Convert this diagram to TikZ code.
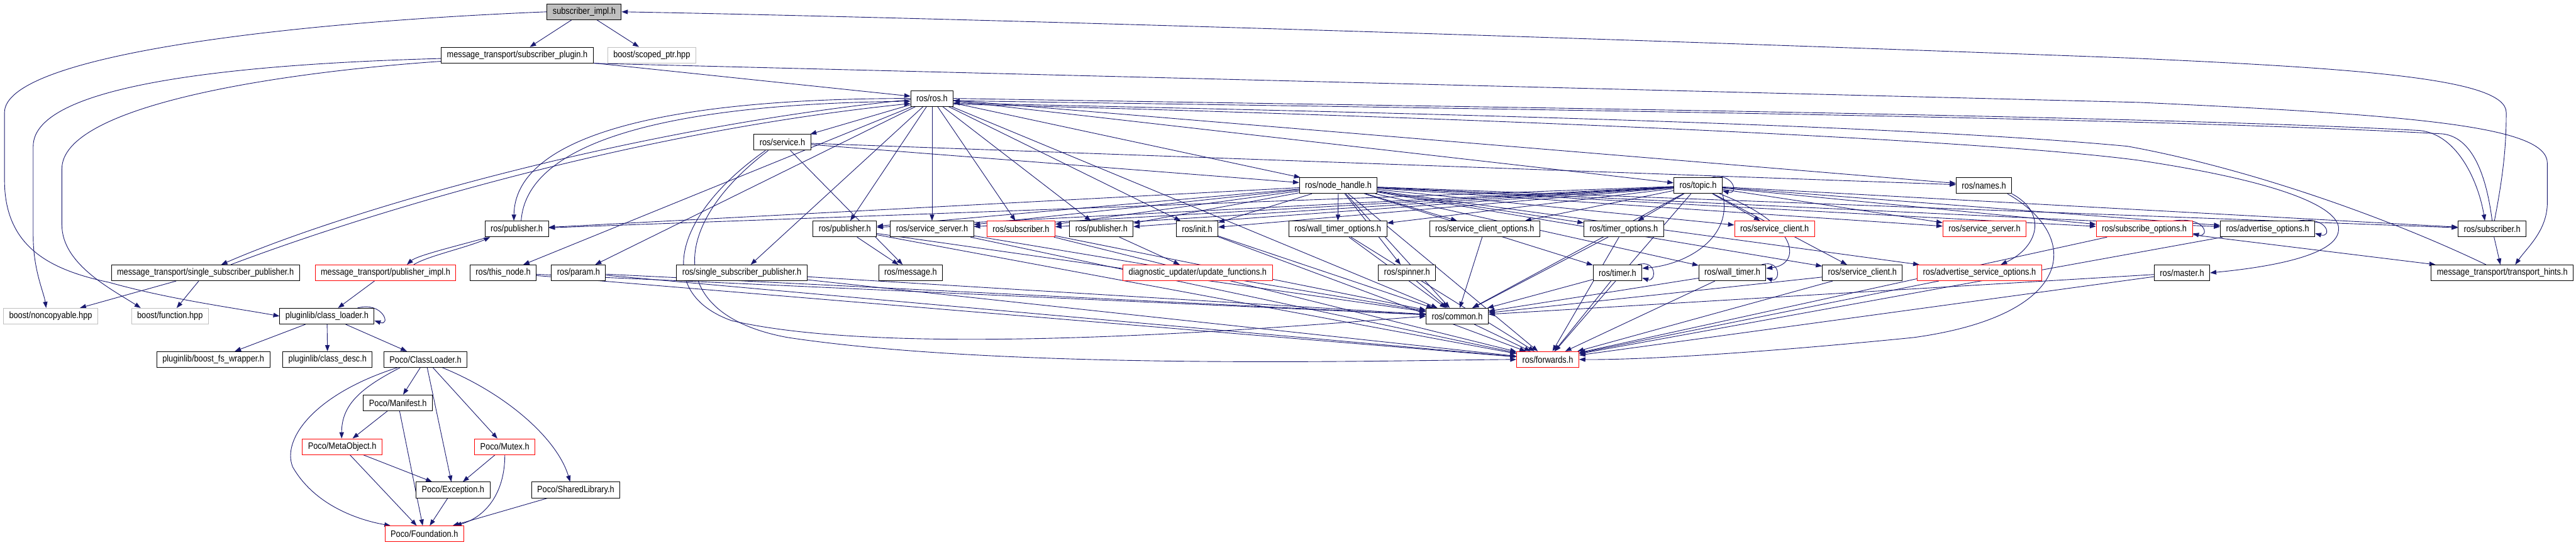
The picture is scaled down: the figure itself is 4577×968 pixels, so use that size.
\documentclass[tikz,border=0pt]{standalone}
\usepackage{fontspec}
\setmainfont{Liberation Sans}[FakeStretch=0.87]
\usepackage{tikz}
\usetikzlibrary{arrows.meta}
\definecolor{edgeblue}{HTML}{191970}
\definecolor{lightbox}{HTML}{BFBFBF}
\pgfdeclarelayer{edges}
\pgfsetlayers{edges,main}

\begin{document}
\begin{tikzpicture}[x=1pt,y=-1pt,
  file/.style={draw=black,line width=1.1pt,fill=white,minimum height=28pt,inner xsep=10pt,inner ysep=0pt,font=\fontsize{16.4}{18}\selectfont},
  trunc/.style={file,draw=red},
  ext/.style={file,draw=lightbox},
  root/.style={file,fill=lightbox},
  inc/.style={draw=edgeblue,line width=1pt,-{Triangle[length=11pt,width=8pt]}}]
\useasboundingbox (0,0) rectangle (4577,968);
% top of the graph
\node[root] (subimpl) at (1038,21) {subscriber\_impl.h};
\node[file] (subplugin) at (919,98) {message\_transport/subscriber\_plugin.h};
\node[ext] (scopedptr) at (1158,98) {boost/scoped\_ptr.hpp};
\node[file] (rosh) at (1656,175) {ros/ros.h};
\node[file] (service) at (1390,253) {ros/service.h};
\node[file] (nodehandle) at (2378,330) {ros/node\_handle.h};
\node[file] (topic) at (3017,330) {ros/topic.h};
\node[file] (names) at (3525,330) {ros/names.h};
% second row of headers
\node[file] (pubA) at (918,407) {ros/publisher.h};
\node[file] (pubB) at (1501,407) {ros/publisher.h};
\node[file] (srvserverK) at (1656,407) {ros/service\_server.h};
\node[trunc] (subR) at (1814,407) {ros/subscriber.h};
\node[file] (pubC) at (1957,407) {ros/publisher.h};
\node[file] (init) at (2127,407) {ros/init.h};
\node[file] (wto) at (2377,407) {ros/wall\_timer\_options.h};
\node[file] (sco) at (2638,407) {ros/service\_client\_options.h};
\node[file] (tmo) at (2885,407) {ros/timer\_options.h};
\node[trunc] (sclR) at (3153,407) {ros/service\_client.h};
\node[trunc] (srvserverR) at (3526,407) {ros/service\_server.h};
\node[trunc] (subopt) at (3810,407) {ros/subscribe\_options.h};
\node[file] (advopt) at (4029,407) {ros/advertise\_options.h};
\node[file] (subK) at (4428,407) {ros/subscriber.h};
% third row
\node[file] (mtssp) at (365,485) {message\_transport/single\_subscriber\_publisher.h};
\node[trunc] (pubimpl) at (685,485) {message\_transport/publisher\_impl.h};
\node[file] (thisnode) at (894,485) {ros/this\_node.h};
\node[file] (param) at (1028,485) {ros/param.h};
\node[file] (rosssp) at (1318,485) {ros/single\_subscriber\_publisher.h};
\node[file] (message) at (1618,485) {ros/message.h};
\node[trunc] (updfn) at (2128,485) {diagnostic\_updater/update\_functions.h};
\node[file] (spinner) at (2500,485) {ros/spinner.h};
\node[file] (timer) at (2874,485) {ros/timer.h};
\node[file] (walltimer) at (3078,485) {ros/wall\_timer.h};
\node[file] (sclK) at (3309,485) {ros/service\_client.h};
\node[trunc] (aso) at (3517,485) {ros/advertise\_service\_options.h};
\node[file] (master) at (3877,485) {ros/master.h};
\node[file] (hints) at (4446,485) {message\_transport/transport\_hints.h};
% bottom rows
\node[ext] (noncopy) at (90,562) {boost/noncopyable.hpp};
\node[ext] (bfunction) at (302,562) {boost/function.hpp};
\node[file] (classloader) at (581,562) {pluginlib/class\_loader.h};
\node[file] (common) at (2589,562) {ros/common.h};
\node[file] (fswrap) at (379,639) {pluginlib/boost\_fs\_wrapper.h};
\node[file] (classdesc) at (582,639) {pluginlib/class\_desc.h};
\node[file] (pococl) at (756,639) {Poco/ClassLoader.h};
\node[trunc] (forwards) at (2750,639) {ros/forwards.h};
\node[file] (manifest) at (707,716) {Poco/Manifest.h};
\node[trunc] (metaobj) at (608,794) {Poco/MetaObject.h};
\node[trunc] (mutex) at (897,794) {Poco/Mutex.h};
\node[file] (exception) at (805,871) {Poco/Exception.h};
\node[file] (sharedlib) at (1023,871) {Poco/SharedLibrary.h};
\node[trunc] (foundation) at (754,949) {Poco/Foundation.h};

\begin{pgfonlayer}{edges}
\fill[white] (0,0) rectangle (4577,968);
% plain includes
\foreach \a/\b in {subimpl/subplugin, subimpl/scopedptr, subplugin/rosh,
  rosh/service, rosh/nodehandle, rosh/topic, rosh/names, rosh/thisnode, rosh/param, rosh/rosssp,
  rosh/pubB, rosh/srvserverK, rosh/subR, rosh/pubC, rosh/init, rosh/common,
  service/nodehandle, service/names, service/message,
  nodehandle/pubA, nodehandle/pubB, nodehandle/srvserverK, nodehandle/subR, nodehandle/pubC,
  nodehandle/init, nodehandle/wto, nodehandle/sco, nodehandle/tmo, nodehandle/sclR,
  nodehandle/srvserverR, nodehandle/subopt, nodehandle/advopt, nodehandle/subK,
  nodehandle/spinner, nodehandle/timer, nodehandle/walltimer, nodehandle/sclK, nodehandle/aso,
  nodehandle/common, nodehandle/forwards,
  topic/pubA, topic/pubB, topic/srvserverK, topic/subR, topic/pubC, topic/init, topic/wto,
  topic/sco, topic/tmo, topic/sclR, topic/srvserverR, topic/subopt, topic/advopt, topic/subK,
  topic/sclK, topic/common, topic/forwards,
  pubimpl/classloader, mtssp/noncopy, mtssp/bfunction,
  thisnode/common, thisnode/forwards, param/common, param/forwards, rosssp/common, rosssp/forwards,
  pubB/message, pubB/common, pubB/forwards, srvserverK/common, srvserverK/forwards,
  subR/common, subR/forwards, pubC/updfn, init/common, init/forwards,
  wto/common, wto/forwards, sco/common, tmo/common, tmo/forwards, spinner/common,
  timer/common, timer/forwards, walltimer/common, walltimer/forwards, sclK/common, sclK/forwards,
  aso/forwards, master/forwards, master/common, subopt/forwards, subopt/hints,
  advopt/forwards, subK/hints, common/forwards,
  classloader/fswrap, classloader/classdesc, classloader/pococl, pococl/manifest,
  pococl/exception, pococl/mutex, manifest/metaobj, manifest/foundation,
  metaobj/exception, metaobj/foundation, mutex/exception, exception/foundation, sharedlib/foundation}
  \draw[inc] (\a) -- (\b);
% long ones round the left side
\draw[inc] (subimpl.west) .. controls (500,40) and (8,100) .. (8,200) -- (8,320) .. controls (8,440) and (90,480) .. (194,502) .. controls (300,532) and (420,548) .. (classloader.west);
\draw[inc] ([yshift=-6pt]subplugin.west) .. controls (420,114) and (59,150) .. (59,260) -- (59,420) .. controls (59,480) and (78,520) .. ([xshift=-8pt]noncopy.north);
\draw[inc] ([yshift=-11pt]subplugin.west) .. controls (480,130) and (110,190) .. (110,300) -- (110,400) .. controls (110,470) and (200,515) .. ([xshift=-52pt]bfunction.north);
% long ones round the right side
\draw[inc] (subplugin.south east) -- (3800,182) .. controls (4300,205) and (4526,225) .. (4526,290) -- (4526,360) .. controls (4526,410) and (4490,440) .. ([xshift=23pt]hints.north);
\draw[inc] ([xshift=4pt]subK.north) .. controls (4450,300) and (4453,250) .. (4453,200) .. controls (4453,140) and (4200,122) .. (3780,103) .. controls (2500,55) and (1500,28) .. (subimpl.east);
\draw[inc] (rosh.east) .. controls (2600,190) and (3800,205) .. (4300,232) .. controls (4370,240) and (4405,330) .. ([xshift=-13pt]subK.north);
\draw[inc] (subK.north) .. controls (4420,330) and (4400,245) .. (4340,238) .. controls (3800,208) and (2600,193) .. ([yshift=-4pt]rosh.east);
\draw[inc] ([xshift=-29pt]hints.north) .. controls (4250,390) and (4000,300) .. (3780,260) .. controls (3300,215) and (2200,195) .. ([yshift=-8pt]rosh.east);
\draw[inc] ([yshift=-10pt]rosh.east) .. controls (2500,205) and (3500,245) .. (3800,285) .. controls (4100,330) and (4160,380) .. (4155,410) .. controls (4150,460) and (4000,478) .. (master.east);
% both ways
\draw[inc] (rosh.west) .. controls (1150,175) and (915,250) .. ([xshift=-5pt]pubA.north);
\draw[inc] ([xshift=8pt]pubA.north) .. controls (935,260) and (1160,185) .. ([yshift=-5pt]rosh.west);
\draw[inc] ([yshift=-2pt]pubA.south west) .. controls (800,440) and (740,455) .. ([xshift=38pt]pubimpl.north);
\draw[inc] ([xshift=50pt]pubimpl.north) .. controls (760,455) and (830,440) .. ([xshift=10pt]pubA.south west);
\draw[inc] ([yshift=-2pt]rosh.west) .. controls (1100,230) and (600,380) .. ([xshift=28pt]mtssp.north);
\draw[inc] ([xshift=45pt]mtssp.north) .. controls (650,380) and (1120,235) .. ([yshift=-9pt]rosh.west);
% bends
\draw[inc] (topic.south east) .. controls (3080,420) and (3000,470) .. ([yshift=8pt]timer.east);
\draw[inc] ([xshift=-5pt]topic.south east) .. controls (3200,400) and (3200,470) .. ([yshift=8pt]walltimer.east);
\draw[inc] (names.south east) .. controls (3640,380) and (3620,440) .. ([xshift=38pt]aso.north);
\draw[inc] ([xshift=-8pt]names.south east) .. controls (3700,420) and (3690,560) .. (3400,600) .. controls (3100,630) and (2900,640) .. (forwards.east);
\draw[inc] ([xshift=-30pt]service.south) .. controls (1200,380) and (1160,520) .. (1300,570) .. controls (1600,640) and (2300,580) .. (common.west);
\draw[inc] ([xshift=-25pt]service.south) .. controls (1190,400) and (1180,560) .. (1400,600) .. controls (1800,660) and (2500,640) .. (forwards.west);
\draw[inc] ([xshift=-50pt]pococl.south) .. controls (560,700) and (500,780) .. (520,830) .. controls (560,900) and (640,925) .. ([xshift=-60pt]foundation.north);
\draw[inc] ([xshift=-45pt]pococl.south) .. controls (640,690) and (607,720) .. ([xshift=-1pt]metaobj.north);
\draw[inc] ([xshift=30pt]pococl.south) .. controls (900,700) and (990,780) .. ([xshift=-10pt]sharedlib.north);
\draw[inc] (mutex.south) .. controls (897,880) and (860,920) .. ([xshift=55pt]foundation.north);
% self includes
\draw[inc] ([xshift=-30pt]classloader.north east) .. controls +(45,-12) and +(30,10) .. ([yshift=-8pt]classloader.east);
\draw[inc] ([xshift=-20pt]topic.north east) .. controls +(40,-10) and +(30,8) .. ([yshift=-9pt]topic.east);
\draw[inc] ([xshift=-8pt]timer.north east) .. controls +(35,-10) and +(25,8) .. ([yshift=-9pt]timer.east);
\draw[inc] ([xshift=-8pt]walltimer.north east) .. controls +(35,-10) and +(25,8) .. ([yshift=-9pt]walltimer.east);
\draw[inc] ([xshift=-34pt]subopt.north east) .. controls +(60,-8) and +(30,8) .. ([yshift=-8pt]subopt.east);
\draw[inc] ([xshift=-30pt]advopt.north east) .. controls +(55,-8) and +(30,8) .. ([yshift=-8pt]advopt.east);
\end{pgfonlayer}
\end{tikzpicture}
\end{document}
